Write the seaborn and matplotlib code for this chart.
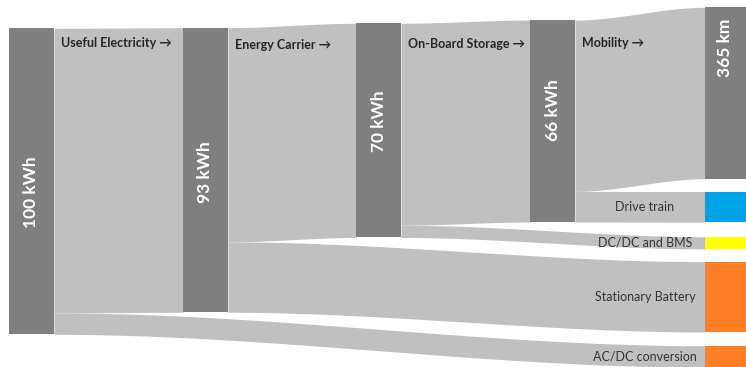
import numpy as np
import matplotlib
matplotlib.use("Agg")
import matplotlib.pyplot as plt
import seaborn as sns

# --- data -------------------------------------------------------------
stage_labels = ["100 kWh", "93 kWh", "70 kWh", "66 kWh", "365 km"]
stage_energy = [100, 93, 70, 66, 56]          # kWh reaching each stage
step_names = ["Useful Electricity", "Energy Carrier", "On-Board Storage", "Mobility"]
loss_names = ["AC/DC conversion", "Stationary Battery", "DC/DC and BMS", "Drive train"]
loss_energy = [7, 23, 4, 10]                   # kWh lost at each step
loss_colors = ["#ff7f27", "#ff7f27", "#ffff00", "#00a2e8"]

# --- layout (x in pixels, y in kWh) -----------------------------------
W, H = 746, 367
KWH_PER_PX = 1 / 3.06
node_left = [9, 183, 356, 530, 705]
node_w = 45
node_top = [9.25, 9.05, 7.6, 6.55, 2.4]
label_y = [62.7, 56.2, 39.5, 36.0, 15.7]
step_label_y = [14.0, 14.6, 14.3, 14.0]
loss_bar_left = 705
loss_bar_top = [113.0, 85.5, 77.35, 62.6]
loss_text_x = 645

NODE = "#7f7f7f"
FLOW = "#c0c0c0"

sns.set_theme(style="white")
plt.rcParams["font.family"] = ["Lato", "DejaVu Sans"]

fig = plt.figure(figsize=(W / 100, H / 100), dpi=100)
ax = fig.add_axes([0, 0, 1, 1])
ax.set_xlim(0, W)
ax.set_ylim(H * KWH_PER_PX, 0)
ax.axis("off")


def band(x0, x1, top0, bot0, top1, bot1):
    xs = np.linspace(x0, x1, 200)
    t = (xs - x0) / (x1 - x0)
    s = t * t * (3 - 2 * t)
    top = top0 + (top1 - top0) * s
    bot = bot0 + (bot1 - bot0) * s
    ax.fill_between(xs, top, bot, color=FLOW, lw=0, zorder=1)


# flows between stages and loss branches
for i in range(4):
    src_x = node_left[i] + node_w
    dst_x = node_left[i + 1]
    kept = stage_energy[i + 1]
    band(src_x, dst_x,
         node_top[i], node_top[i] + kept,
         node_top[i + 1], node_top[i + 1] + kept)
    loss = loss_energy[i]
    band(src_x, loss_bar_left,
         node_top[i] + kept, node_top[i] + kept + loss,
         loss_bar_top[i], loss_bar_top[i] + loss)

# stage nodes
ax.bar(node_left, stage_energy, width=node_w, bottom=node_top,
       align="edge", color=NODE, lw=0, zorder=2)

# loss bars
ax.bar([loss_bar_left] * 4, loss_energy, width=node_w, bottom=loss_bar_top,
       align="edge", color=loss_colors, lw=0, zorder=2)

# node labels
for i, lab in enumerate(stage_labels):
    ax.text(node_left[i] + node_w / 2 + (-2 if i == 4 else 0), label_y[i], lab,
            rotation=90, ha="center", va="center", color="white",
            fontsize=12.5, fontweight="bold", zorder=3)

# step labels
for i, name in enumerate(step_names):
    ax.text(node_left[i] + node_w + 7, step_label_y[i], name + " \u2192",
            ha="left", va="center", color="#262626", fontsize=9,
            fontweight="bold", zorder=3)

# loss labels
for i, name in enumerate(loss_names):
    ax.text(loss_text_x, loss_bar_top[i] + loss_energy[i] / 2, name,
            ha="center", va="center", color="#333333", fontsize=9, zorder=3)

fig.savefig("out.png", dpi=100)
